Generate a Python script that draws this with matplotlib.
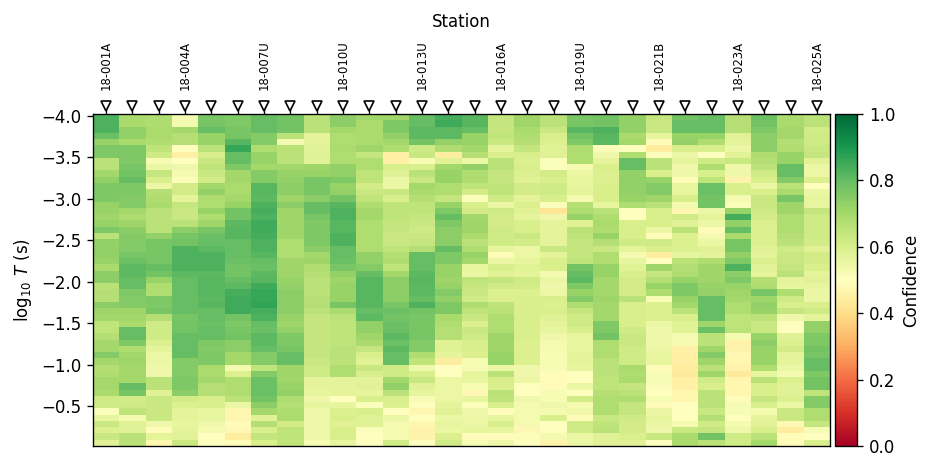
import numpy as np
import matplotlib
matplotlib.use('Agg')
import matplotlib.pyplot as plt

# confidence per station (percent), shallow period rows first: -4.0 -> 0
station_00 = [83,83,83,79,72,76,76,66,66,70,73,76,76,76,72,72,71,72,76,66,73,73,73,72,69,74, 74,66,67,67,74,71,70,65,65,67,70,70,75,70,67,68,70,70,69,62,62,51,56,63,59,63,58]
station_01 = [69,69,73,73,69,76,76,76,77,78,80,76,76,75,75,70,68,71,74,75,75,75,77,79,81,81, 80,80,76,75,75,71,70,69,80,80,76,68,70,71,70,70,70,80,77,61,62,65,53,58,58,66,66]
station_02 = [68,68,69,69,68,65,62,52,55,64,60,55,67,68,69,66,66,66,66,73,77,77,77,77,80,78, 72,68,68,76,76,77,67,62,62,62,59,57,55,55,54,54,66,66,58,63,63,63,63,54,49,57,47]
station_03 = [53,53,70,67,67,50,45,50,54,53,51,61,61,57,64,63,63,66,74,77,78,83,83,83,83,81, 80,80,80,80,80,80,77,78,78,80,80,80,80,75,75,75,76,76,74,61,59,57,57,56,57,58,63]
station_04 = [77,77,80,72,72,66,60,63,65,63,61,70,73,68,68,72,68,71,77,79,80,81,83,83,83,81, 82,82,82,81,82,80,80,79,80,80,76,75,76,76,69,69,70,67,67,60,60,56,56,54,53,50,50]
station_05 = [76,76,77,77,82,86,80,80,76,70,70,69,69,70,72,78,78,81,82,82,80,80,80,79,78,78, 80,81,84,85,85,85,78,76,77,78,74,74,70,70,53,59,68,68,68,66,55,47,47,49,48,44,49]
station_06 = [80,80,80,75,75,68,72,72,70,75,75,82,82,81,83,84,83,85,85,84,83,83,82,80,79,81, 82,85,86,86,87,84,83,80,79,81,81,80,75,75,65,75,79,79,79,78,74,70,58,67,60,64,60]
station_07 = [78,78,78,66,53,66,66,66,70,72,73,74,74,71,74,71,71,71,71,71,68,68,68,71,71,71, 72,73,74,74,74,74,72,71,73,76,76,77,80,80,71,71,71,72,73,68,67,68,69,61,65,65,65]
station_08 = [66,66,66,57,57,58,58,58,71,72,77,77,77,74,80,80,77,76,76,76,76,74,70,71,68,67, 66,66,66,67,67,66,64,64,64,64,64,64,64,63,62,62,57,57,56,54,56,54,54,54,54,54,52]
station_09 = [74,74,70,68,68,69,68,68,73,73,76,72,73,78,82,83,83,82,82,83,83,80,80,79,77,73, 71,72,72,72,77,69,66,65,65,65,65,66,66,66,68,68,57,57,57,50,56,59,60,58,60,60,56]
station_10 = [71,69,69,69,69,71,64,68,68,65,65,61,63,65,68,70,70,68,68,68,68,68,73,73,75,80, 82,82,82,82,82,80,81,73,73,71,69,64,60,58,63,60,57,58,56,60,51,60,58,58,51,50,50]
station_11 = [71,76,76,73,70,68,45,45,60,58,55,55,63,60,65,65,65,64,64,63,63,65,67,68,65,70, 74,74,74,74,77,79,78,79,79,81,79,81,80,80,62,62,70,73,66,60,59,50,55,53,53,53,62]
station_12 = [80,80,81,81,78,62,63,52,60,66,63,70,69,67,65,65,64,63,62,63,64,67,80,80,80,81, 82,81,81,80,83,78,77,77,77,77,75,75,68,65,54,60,63,58,56,52,50,47,50,47,46,46,50]
station_13 = [84,85,81,81,73,68,44,58,70,72,72,68,68,64,72,76,80,76,74,74,74,80,76,76,72,72, 71,72,75,73,76,76,69,68,67,67,58,58,57,44,50,50,55,55,55,55,57,58,55,56,55,59,62]
station_14 = [82,82,80,72,72,70,67,55,73,68,68,65,61,51,60,61,70,71,71,69,66,68,72,70,56,55, 65,64,63,62,68,65,63,59,63,62,60,60,59,52,52,56,56,52,48,56,51,54,55,55,56,49,52]
station_15 = [64,64,64,65,63,57,60,66,66,64,64,65,65,62,55,62,61,61,62,62,62,56,49,55,60,58, 64,62,59,59,65,66,68,68,68,71,71,71,72,72,55,66,60,60,66,65,60,49,56,60,56,49,54]
station_16 = [71,71,69,68,67,64,60,59,60,59,58,61,61,57,59,58,57,60,60,63,61,55,55,56,58,57, 62,61,59,60,60,60,60,60,60,60,59,59,59,59,54,54,55,50,50,54,53,53,53,53,48,51,50]
station_17 = [66,66,63,60,59,58,58,51,51,61,60,62,62,60,51,42,54,57,57,57,57,63,57,60,60,53, 55,54,55,60,59,60,58,57,56,54,53,53,52,52,52,49,49,49,52,52,54,53,60,50,50,53,46]
station_18 = [77,77,82,78,76,68,68,68,53,55,56,56,57,53,67,68,72,58,66,65,64,64,64,65,78,80, 81,76,72,75,68,64,62,62,60,56,56,56,57,57,56,50,50,55,50,61,53,54,49,62,62,55,55]
station_19 = [78,78,83,82,81,49,54,57,60,59,59,60,60,60,56,66,68,69,68,72,67,63,68,68,72,72, 70,70,70,71,70,70,70,76,76,78,68,68,68,66,66,66,65,65,67,68,68,68,63,65,66,58,58]
station_20 = [73,73,73,69,70,50,68,80,80,73,73,73,73,72,68,50,50,60,60,60,62,57,53,56,58,60, 61,61,61,66,60,60,60,60,62,63,63,62,62,62,69,68,69,64,66,68,64,64,62,61,61,60,58]
station_21 = [64,63,63,56,49,44,51,66,66,60,72,75,75,71,66,60,60,60,55,49,62,60,44,50,71,64, 67,72,68,52,59,59,59,55,54,54,54,55,56,56,49,52,52,51,50,52,49,55,56,55,54,63,50]
station_22 = [78,80,80,72,73,60,55,57,54,54,49,56,56,60,53,47,62,58,66,59,59,59,56,66,67,68, 72,76,76,72,70,66,60,58,58,53,53,45,45,45,44,43,45,45,47,47,50,50,50,53,63,69,69]
station_23 = [80,80,80,72,68,60,50,62,68,60,65,79,79,78,78,55,57,55,49,53,55,58,57,68,71,71, 71,72,73,80,80,80,80,71,79,66,66,71,75,71,66,71,62,60,66,66,66,63,67,62,64,78,66]
station_24 = [67,67,67,58,57,55,58,63,54,54,46,60,60,53,51,72,84,73,80,69,77,77,73,76,83,74, 76,72,71,70,68,68,65,65,66,53,46,46,48,47,46,43,47,47,47,49,52,52,50,53,54,62,62]
station_25 = [79,78,76,74,74,74,68,67,66,62,60,55,60,63,63,62,61,59,59,59,59,58,57,59,58,57, 67,68,77,71,73,72,66,63,63,72,74,72,72,72,68,56,66,60,60,64,60,53,57,58,60,66,70]
station_26 = [69,69,70,70,67,68,72,72,80,80,75,66,69,77,71,71,68,68,68,67,66,62,63,63,64,66, 57,56,68,62,60,64,54,50,50,58,59,61,57,57,55,53,59,58,58,59,55,63,63,48,44,49,49]
station_27 = [66,66,61,62,62,63,64,58,55,55,59,50,55,56,56,64,62,62,62,62,61,58,61,61,60,57, 58,56,55,55,60,62,57,73,73,76,76,78,77,80,80,76,78,78,65,75,75,68,68,64,52,50,60]

stations = [station_00, station_01, station_02, station_03, station_04, station_05, station_06,
            station_07, station_08, station_09, station_10, station_11, station_12, station_13,
            station_14, station_15, station_16, station_17, station_18, station_19, station_20,
            station_21, station_22, station_23, station_24, station_25, station_26, station_27]

label_index = [0, 3, 6, 9, 12, 15, 18, 21, 24, 27]
label_names = ['18-001A', '18-004A', '18-007U', '18-010U', '18-013U',
               '18-016A', '18-019U', '18-021B', '18-023A', '18-025A']
y_ticks = [-4.0, -3.5, -3.0, -2.5, -2.0, -1.5, -1.0, -0.5]

W, H = 929, 469
conf = np.array(stations).T / 100.0
x_edges = np.arange(conf.shape[1] + 1)
y_edges = np.linspace(-4.024, -0.018, conf.shape[0] + 1)

fig = plt.figure(figsize=(W / 120, H / 120), dpi=120)
ax = fig.add_axes([93 / W, 1 - 446 / H, (830 - 93) / W, (446 - 114) / H])
mesh = ax.pcolormesh(x_edges, y_edges, conf, cmap='RdYlGn', vmin=0, vmax=1)
ax.set_ylim(y_edges[-1], y_edges[0])
ax.set_yticks(y_ticks)
ax.set_ylabel(r'$\log_{10}\,T$ (s)')

# station ticks along the top, every third one named
centres = np.arange(conf.shape[1]) + 0.5
ax.xaxis.tick_top()
ax.xaxis.set_label_position('top')
ax.set_xticks(centres)
names = [''] * len(centres)
for i, name in zip(label_index, label_names):
    names[i] = name
ax.set_xticklabels(names, rotation=90, fontsize=7)
ax.tick_params(axis='x', pad=11)
ax.set_xlabel('Station', labelpad=8)

ax.plot(centres, np.full(len(centres), 1.024), 'v', color='white', mec='black', ms=6.5, mew=1,
        transform=ax.get_xaxis_transform(), clip_on=False, zorder=5)

cax = fig.add_axes([835 / W, 1 - 446 / H, 22 / W, (446 - 114) / H])
cbar = fig.colorbar(mesh, cax=cax)
cbar.set_label('Confidence')

fig.savefig('out.png', dpi=120)
